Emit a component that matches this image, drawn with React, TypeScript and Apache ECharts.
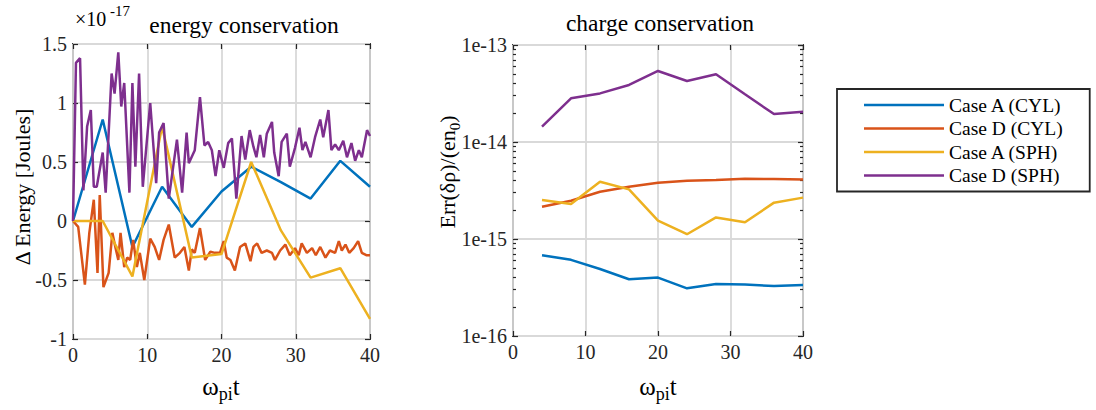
import React, { useEffect, useRef } from "react";
import * as echarts from "echarts";

const seriesNames = ["Case A (CYL)", "Case D (CYL)", "Case A (SPH)", "Case D (SPH)"];
const seriesColors = ["#0072BD", "#D95319", "#EDB120", "#7E2F8E"];

// ---- energy conservation (values in units of 1e-17 J) ----
const energyCoarseTime = [0, 4, 8, 12, 16, 20, 24, 28, 32, 36, 40];
const energyCaseACyl = [0, 0.86, -0.22, 0.29, -0.05, 0.25, 0.46, 0.33, 0.19, 0.51, 0.29];
const energyCaseASph = [0, 0, -0.47, 0.8, -0.31, -0.28, 0.5, -0.08, -0.48, -0.4, -0.83];

const energyCaseDCylTime = [
  0, 0.7, 1.6, 2.2, 2.8, 3.3, 3.6, 4.1, 4.8, 5.3, 5.7, 6.1, 6.4, 6.9, 7.3, 7.7, 8.1, 8.6, 9.0, 9.6,
  10.4, 11.0, 11.6, 12.2, 12.9, 13.7, 14.4, 15.0, 15.6, 16.0, 16.4, 17.1, 17.8, 18.5, 19.1, 19.8,
  20.3, 20.7, 21.2, 21.8, 22.5, 23.2, 23.9, 24.3, 24.8, 25.4, 26.1, 26.8, 27.2, 27.9, 28.6, 29.2, 29.9,
  30.4, 30.8, 31.5, 32.2, 32.7, 33.3, 34.0, 34.6, 35.3, 35.8, 36.2, 36.7, 37.2, 37.8, 38.4, 38.9, 39.5, 40,
];
const energyCaseDCyl = [
  0, -0.05, -0.54, -0.1, 0.18, -0.44, 0.22, -0.56, -0.44, -0.1, -0.22, -0.33, -0.1, -0.39, -0.31, -0.33, -0.16, -0.39, -0.27, -0.5,
  -0.15, -0.22, -0.33, -0.16, -0.03, -0.31, -0.27, -0.22, -0.42, -0.24, -0.27, -0.06, -0.33, -0.26, -0.27, -0.27,
  -0.17, -0.31, -0.33, -0.42, -0.22, -0.19, -0.34, -0.22, -0.19, -0.27, -0.25, -0.27, -0.33, -0.25, -0.2, -0.29, -0.23,
  -0.29, -0.19, -0.27, -0.23, -0.29, -0.22, -0.31, -0.25, -0.27, -0.17, -0.25, -0.2, -0.27, -0.23, -0.17, -0.27, -0.29, -0.29,
];

const energyCaseDSphTime = [
  0, 0.4, 0.95, 1.4, 1.9, 2.4, 2.8, 3.2, 4.0, 4.4, 5.2, 5.6, 6.1, 6.5, 6.9, 7.6, 8.0, 8.4, 8.9, 9.4,
  10.4, 11.2, 11.6, 12.2, 12.9, 14.0, 14.7, 15.3, 15.6, 16.4, 17.1, 17.7, 18.2, 18.7, 19.2, 19.7,
  20.3, 20.9, 21.4, 22.0, 22.7, 23.2, 23.8, 24.3, 24.7, 25.2, 25.7, 26.1, 26.8, 27.1, 27.7, 28.1, 28.8, 29.2, 29.9,
  30.5, 30.9, 31.3, 32.0, 32.6, 33.3, 33.7, 34.4, 34.8, 35.3, 35.8, 36.4, 36.9, 37.5, 38.0, 38.5, 38.9, 39.6, 40,
];
const energyCaseDSph = [
  0, 1.34, 1.38, 0.26, 0.8, 0.94, 0.29, 0.29, 0.58, 0.24, 1.25, 1.08, 1.43, 0.97, 1.17, 0.24, 1.17, 0.46, 1.25, 0.29,
  1.0, 0.32, 0.75, 0.83, 0.19, 0.69, 0.24, 0.75, 0.49, 0.6, 1.05, 0.64, 0.67, 0.6, 0.38, 0.6,
  0.45, 0.66, 0.7, 0.19, 0.72, 0.52, 0.77, 0.63, 0.54, 0.73, 0.54, 0.74, 0.84, 0.58, 0.38, 0.67, 0.74, 0.46, 0.62,
  0.79, 0.6, 0.67, 0.54, 0.71, 0.86, 0.71, 0.94, 0.6, 0.65, 0.6, 0.68, 0.54, 0.66, 0.51, 0.6, 0.54, 0.77, 0.72,
];

// ---- charge conservation ----
const chargeTime = [4, 8, 12, 16, 20, 24, 28, 32, 36, 40];
const chargeCaseACyl = [6.8e-16, 6.1e-16, 4.9e-16, 3.85e-16, 4.0e-16, 3.1e-16, 3.44e-16, 3.4e-16, 3.27e-16, 3.35e-16];
const chargeCaseDCyl = [2.15e-15, 2.48e-15, 3.07e-15, 3.46e-15, 3.8e-15, 3.98e-15, 4.05e-15, 4.19e-15, 4.15e-15, 4.1e-15];
const chargeCaseASph = [2.52e-15, 2.3e-15, 3.9e-15, 3.25e-15, 1.55e-15, 1.12e-15, 1.67e-15, 1.49e-15, 2.37e-15, 2.67e-15];
const chargeCaseDSph = [1.44e-14, 2.82e-14, 3.17e-14, 3.87e-14, 5.4e-14, 4.26e-14, 5.0e-14, 3.1e-14, 1.94e-14, 2.05e-14];

const logDecades = [-16, -15, -14];
const logMantissas = [2, 3, 4, 5, 6, 7, 8, 9];

const FONT = "Liberation Serif";
const AXIS = "#262626";
const GRIDC = "#d9d9d9";

const zip = (xs: number[], ys: number[]) => xs.map((x, i) => [x, ys[i]]);

export default function App() {
  const ref = useRef<HTMLDivElement>(null);
  useEffect(() => {
    if (!ref.current) return;
    const chart = echarts.init(ref.current, undefined, { renderer: "svg" });
    const minorTicks: number[] = [];
    logDecades.forEach((d) => logMantissas.forEach((m) => minorTicks.push(m * Math.pow(10, d))));

    const richTick = { t: { fontFamily: FONT, fontSize: 20, color: AXIS } };
    const tickLabel = (fmt: (v: number) => string, margin: number) => ({
      fontFamily: FONT,
      fontSize: 20,
      color: AXIS,
      margin,
      formatter: (v: number) => "{t|" + fmt(v) + "}",
      rich: richTick,
    });
    const noLine = { show: false, onZero: false };
    const majorTick = { show: true, inside: true, length: 5, lineStyle: { color: AXIS, width: 1.2 } };
    const baseX = (grid: number, pos: string, labels: boolean) => ({
      type: "value",
      gridIndex: grid,
      position: pos,
      min: 0,
      max: 40,
      interval: 10,
      axisLine: noLine,
      axisTick: majorTick,
      axisLabel: labels ? tickLabel((v) => String(v), 6) : { show: false },
      splitLine: labels ? { show: true, lineStyle: { color: GRIDC, width: 1.8 } } : { show: false },
    });
    const logY = (pos: string, labels: boolean, minor: boolean) => ({
      type: "log",
      logBase: 10,
      gridIndex: 1,
      position: pos,
      min: 1e-16,
      max: 1e-13,
      axisLine: noLine,
      axisTick: minor
        ? { show: true, inside: true, length: 3, customValues: minorTicks, lineStyle: { color: AXIS, width: 1.2 } }
        : majorTick,
      axisLabel: labels ? tickLabel((v) => "1e" + Math.round(Math.log10(v)), 6) : { show: false },
      splitLine: labels ? { show: true, lineStyle: { color: GRIDC, width: 1.8 } } : { show: false },
    });
    const linY = (pos: string, labels: boolean) => ({
      type: "value",
      gridIndex: 0,
      position: pos,
      min: -1,
      max: 1.5,
      interval: 0.5,
      axisLine: noLine,
      axisTick: majorTick,
      axisLabel: labels ? tickLabel((v) => String(v), 6) : { show: false },
      splitLine: labels ? { show: true, lineStyle: { color: GRIDC, width: 1.8 } } : { show: false },
    });

    const lineSeries = (name: string, color: string, data: number[][], xi: number, yi: number) => ({
      type: "line",
      name,
      xAxisIndex: xi,
      yAxisIndex: yi,
      data,
      showSymbol: false,
      symbol: "none",
      color,
      lineStyle: { color, width: 2.5 },
    });

    const sub = (text: string, size: number, subSize: number) => ({
      text,
      fill: "#000",
      fontFamily: FONT,
      align: "center",
      verticalAlign: "middle",
      rich: {
        a: { fontFamily: FONT, fontSize: size, lineHeight: size + 9, verticalAlign: "middle", fill: "#000" },
        s: { fontFamily: FONT, fontSize: subSize, verticalAlign: "bottom", fill: "#000" },
      },
    });

    const option: any = {
      animation: false,
      textStyle: { fontFamily: FONT },
      grid: [
        { left: 73, top: 44, width: 297, height: 295, show: true, borderColor: AXIS, borderWidth: 1.8, backgroundColor: "transparent" },
        { left: 513, top: 45, width: 290, height: 291, show: true, borderColor: AXIS, borderWidth: 1.8, backgroundColor: "transparent" },
      ],
      xAxis: [baseX(0, "bottom", true), baseX(0, "top", false), baseX(1, "bottom", true), baseX(1, "top", false)],
      yAxis: [linY("left", true), linY("right", false), logY("left", true, false), logY("right", false, false), logY("left", false, true), logY("right", false, true)],
      legend: {
        orient: "vertical",
        left: 837,
        top: 89,
        icon: "rect",
        itemWidth: 80,
        itemHeight: 2.5,
        itemGap: 3.5,
        padding: [6, 27, 6, 27],
        borderColor: AXIS,
        borderWidth: 1.8,
        backgroundColor: "#fff",
        textStyle: { fontFamily: FONT, fontSize: 19.5, color: "#000", lineHeight: 20 },
        data: seriesNames,
      },
      series: [
        lineSeries(seriesNames[0], seriesColors[0], zip(energyCoarseTime, energyCaseACyl), 0, 0),
        lineSeries(seriesNames[1], seriesColors[1], zip(energyCaseDCylTime, energyCaseDCyl), 0, 0),
        lineSeries(seriesNames[2], seriesColors[2], zip(energyCoarseTime, energyCaseASph), 0, 0),
        lineSeries(seriesNames[3], seriesColors[3], zip(energyCaseDSphTime, energyCaseDSph), 0, 0),
        lineSeries(seriesNames[0], seriesColors[0], zip(chargeTime, chargeCaseACyl), 2, 2),
        lineSeries(seriesNames[1], seriesColors[1], zip(chargeTime, chargeCaseDCyl), 2, 2),
        lineSeries(seriesNames[2], seriesColors[2], zip(chargeTime, chargeCaseASph), 2, 2),
        lineSeries(seriesNames[3], seriesColors[3], zip(chargeTime, chargeCaseDSph), 2, 2),
      ],
      graphic: [
        {
          type: "text",
          x: 244,
          y: 25,
          style: { text: "energy conservation", fontFamily: FONT, fontSize: 23.5, fill: "#000", align: "center", verticalAlign: "middle" },
        },
        {
          type: "text",
          x: 660,
          y: 23,
          style: { text: "charge conservation", fontFamily: FONT, fontSize: 23.5, fill: "#000", align: "center", verticalAlign: "middle" },
        },
        {
          type: "text",
          x: 75,
          y: 19,
          style: { text: "×10", fontFamily: FONT, fontSize: 20, fill: "#000", align: "left", verticalAlign: "middle" },
        },
        {
          type: "text",
          x: 110,
          y: 11,
          style: { text: "-17", fontFamily: FONT, fontSize: 15, fill: "#000", align: "left", verticalAlign: "middle" },
        },
        {
          type: "text",
          x: 22,
          y: 187,
          rotation: Math.PI / 2,
          style: { text: "Δ Energy [Joules]", fontFamily: FONT, fontSize: 22, fill: "#000", align: "center", verticalAlign: "middle" },
        },
        {
          type: "text",
          x: 447,
          y: 172,
          rotation: Math.PI / 2,
          style: sub("{a|Err(δρ)/(en}{s|0}{a|)}", 22, 15),
        },
        ...[221, 658].map((cx) => ({
          type: "text",
          x: cx,
          y: 386,
          style: sub("{a|ω}{s|pi}{a|t}", 25, 18),
        })),
      ],
    };
    chart.setOption(option);
    return () => chart.dispose();
  }, []);
  return (
    <div
      ref={ref}
      style={{ position: "fixed", left: 0, top: 0, width: 1096, height: 410, background: "#fff" }}
    />
  );
}
